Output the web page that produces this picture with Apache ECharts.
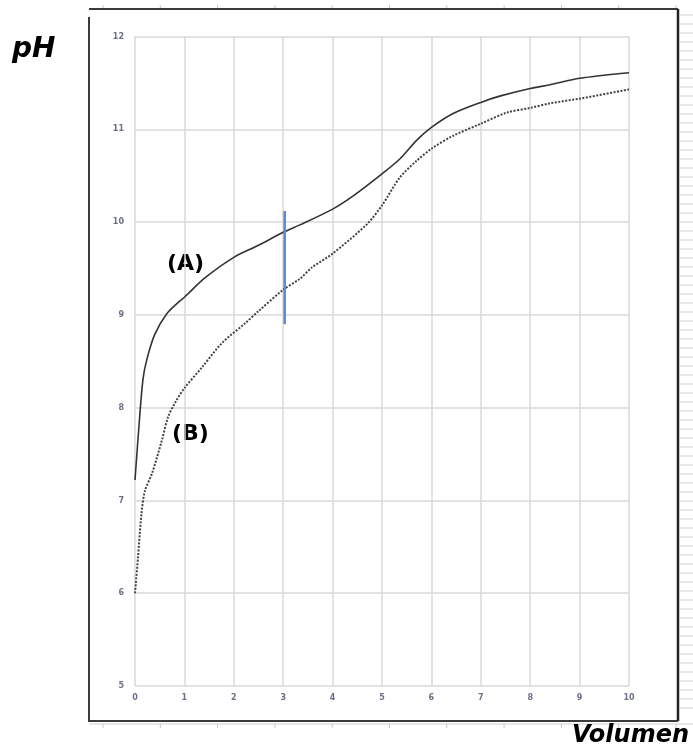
<!DOCTYPE html>
<html>
<head>
<meta charset="utf-8">
<script src="https://cdn.jsdelivr.net/npm/echarts@6/dist/echarts.min.js"></script>
<style>
  html, body { margin: 0; padding: 0; background: #fff; }
  #chart { width: 693px; height: 751px; }
</style>
</head>
<body>
<div id="chart"></div>
<script>
// curva (A) - linea continua
var volA = [0, 0.08, 0.16, 0.24, 0.4, 0.64, 0.91, 1.0, 1.42, 2.0, 2.5, 3.0, 3.34, 4.0, 4.41, 5.0, 5.36, 5.7, 6.0, 6.44, 7.0, 7.4, 8.0, 8.4, 9.0, 10.0];
var phA  = [7.22, 7.8, 8.3, 8.52, 8.79, 9.01, 9.15, 9.19, 9.4, 9.62, 9.75, 9.89, 9.97, 10.14, 10.28, 10.52, 10.68, 10.88, 11.02, 11.17, 11.29, 11.36, 11.44, 11.48, 11.55, 11.61];
// curva (B) - linea punteada
var volB = [0, 0.06, 0.13, 0.2, 0.35, 0.54, 0.67, 0.82, 1.0, 1.35, 1.75, 2.23, 2.5, 3.0, 3.34, 3.58, 4.0, 4.7, 5.0, 5.36, 5.7, 6.0, 6.44, 7.0, 7.53, 8.0, 8.4, 9.0, 10.0];
var phB  = [6.0, 6.38, 6.85, 7.1, 7.3, 7.64, 7.9, 8.06, 8.21, 8.43, 8.69, 8.91, 9.04, 9.27, 9.39, 9.51, 9.66, 9.98, 10.18, 10.48, 10.66, 10.79, 10.93, 11.06, 11.18, 11.23, 11.28, 11.33, 11.43];
// marca vertical azul
var volMark = [3.03, 3.03];
var phMark  = [8.9, 10.12];

var xTicks = [0, 1, 2, 3, 4, 5, 6, 7, 8, 9, 10];
var yTicks = [5, 6, 7, 8, 9, 10, 11, 12];

function pairs(xs, ys) {
  var out = [];
  for (var i = 0; i < xs.length; i++) out.push([xs[i], ys[i]]);
  return out;
}

var chart = echarts.init(document.getElementById('chart'));

// adornos del marco (bordes de celdas tipo Excel)
var deco = [];
var frameColor = '#3c3c3c';
deco.push({ type: 'line', shape: { x1: 89, y1: 9, x2: 678, y2: 9 }, style: { stroke: frameColor, lineWidth: 2 } });
deco.push({ type: 'line', shape: { x1: 89, y1: 17, x2: 89, y2: 722 }, style: { stroke: frameColor, lineWidth: 2 } });
deco.push({ type: 'line', shape: { x1: 678, y1: 9, x2: 678, y2: 721 }, style: { stroke: '#222', lineWidth: 2.5 } });
deco.push({ type: 'line', shape: { x1: 89, y1: 721, x2: 678, y2: 721 }, style: { stroke: frameColor, lineWidth: 2 } });
deco.push({ type: 'line', shape: { x1: 89, y1: 724, x2: 693, y2: 724 }, style: { stroke: '#d0d0d0', lineWidth: 1 } });
for (var k = 0; k < 11; k++) {
  var tx = 103 + k * 57.3;
  deco.push({ type: 'line', shape: { x1: tx, y1: 5, x2: tx, y2: 8 }, style: { stroke: '#c8c8c8', lineWidth: 1 } });
  deco.push({ type: 'line', shape: { x1: tx, y1: 724, x2: tx, y2: 728 }, style: { stroke: '#c8c8c8', lineWidth: 1 } });
}
for (var yy = 15; yy <= 716; yy += 9) {
  deco.push({ type: 'line', shape: { x1: 680, y1: yy, x2: 693, y2: yy }, style: { stroke: '#cfcfcf', lineWidth: 1 } });
}
var bigFont = 'DejaVu Sans';
deco.push({ type: 'text', left: 12, top: 36, style: { text: 'pH', font: 'italic bold 28px "DejaVu Sans"', fill: '#000' } });
deco.push({ type: 'text', left: 572, top: 724, style: { text: 'Volumen', font: 'italic bold 24px "DejaVu Sans"', fill: '#000' } });
deco.push({ type: 'text', left: 167, top: 253, style: { text: '(A)', font: 'bold 22px "DejaVu Sans"', fill: '#000' } });
deco.push({ type: 'text', left: 172, top: 423, style: { text: '(B)', font: 'bold 22px "DejaVu Sans"', fill: '#000' } });

var labelStyle = { fontSize: 8, fontWeight: 'bold', color: '#6a7186', fontFamily: 'DejaVu Sans' };

chart.setOption({
  backgroundColor: '#ffffff',
  animation: false,
  grid: { left: 135, right: 64, top: 36.5, bottom: 65 },
  xAxis: {
    type: 'value',
    min: 0, max: 10, interval: 1,
    axisLine: { show: false },
    axisTick: { show: false },
    axisLabel: Object.assign({ margin: 8, formatter: function (v) { return xTicks.indexOf(v) >= 0 ? String(v) : ''; } }, labelStyle),
    splitLine: { show: true, lineStyle: { color: '#d9d9d9', width: 1.5 } }
  },
  yAxis: {
    type: 'value',
    min: 5, max: 12, interval: 1,
    axisLine: { show: false },
    axisTick: { show: false },
    axisLabel: Object.assign({ margin: 11, formatter: function (v) { return yTicks.indexOf(v) >= 0 ? String(v) : ''; } }, labelStyle),
    splitLine: { show: true, lineStyle: { color: '#d9d9d9', width: 1.5 } }
  },
  series: [
    {
      name: 'A', type: 'line', data: pairs(volA, phA),
      smooth: 0.3, symbol: 'none',
      lineStyle: { color: '#333333', width: 1.6 }
    },
    {
      name: 'B', type: 'line', data: pairs(volB, phB),
      smooth: 0.3, symbol: 'none',
      lineStyle: { color: '#444444', width: 2, type: [2, 1.5] }
    },
    {
      name: 'marca', type: 'line', data: pairs(volMark, phMark),
      symbol: 'none',
      lineStyle: { color: '#5b85d6', width: 2.5 }
    }
  ],
  graphic: deco
});
</script>
</body>
</html>
